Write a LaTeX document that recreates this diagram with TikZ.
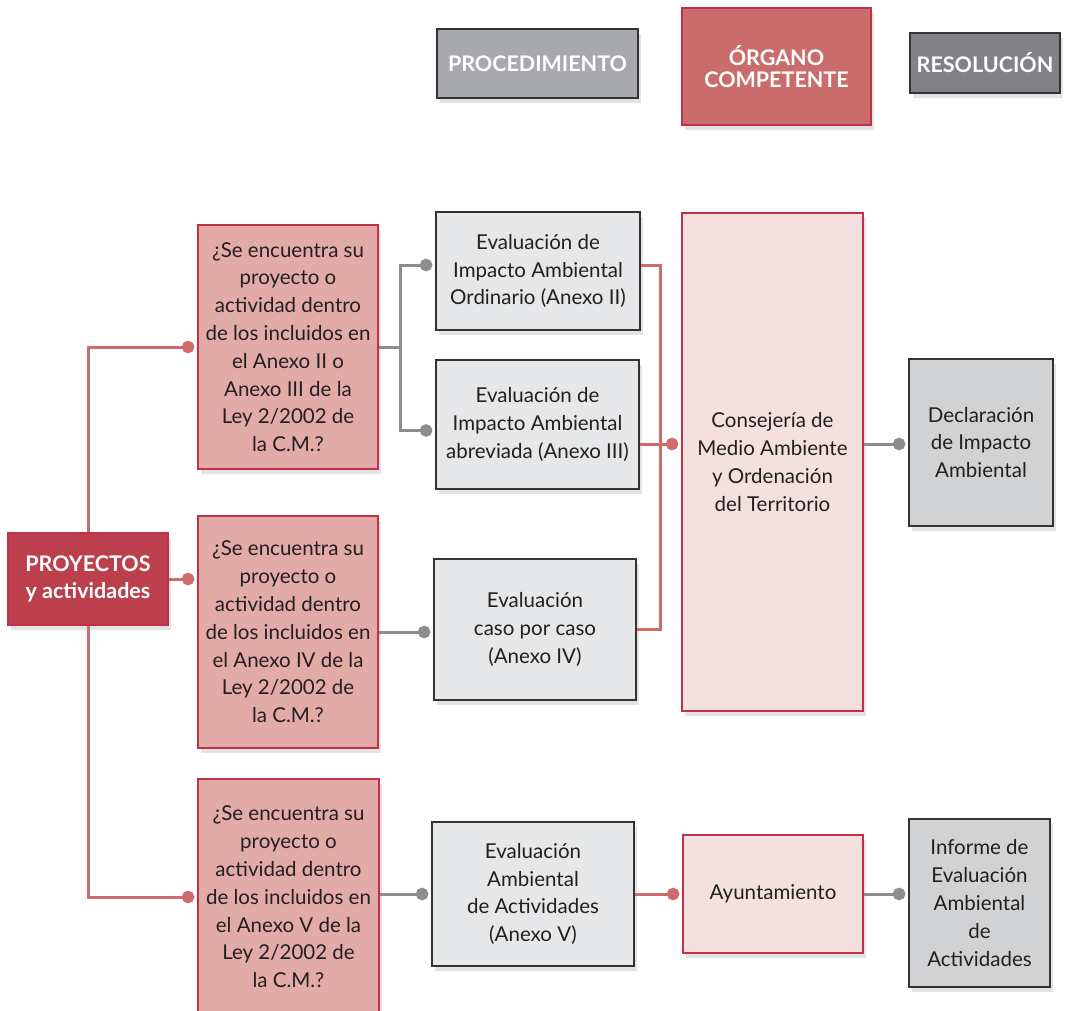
\documentclass[tikz,border=0pt]{standalone}
\usepackage{fontspec}
\setmainfont{Lato}
\usetikzlibrary{arrows.meta,shadows}
\definecolor{qfill}{HTML}{E3ABA7}
\definecolor{redborder}{HTML}{C0304A}
\definecolor{consfill}{HTML}{F5E0E0}
\definecolor{projfill}{HTML}{BC404C}
\definecolor{orgfill}{HTML}{C96C6A}
\definecolor{efill}{HTML}{E6E7E8}
\definecolor{rfill}{HTML}{D1D2D4}
\definecolor{procfill}{HTML}{A7A9AC}
\definecolor{resfill}{HTML}{808285}
\definecolor{redline}{HTML}{CF6B6C}
\definecolor{grayline}{HTML}{8C8D90}
\definecolor{txt}{HTML}{231F20}
\tikzset{
  box/.style={rectangle, inner sep=0pt, align=center, text=txt, line width=1.3pt,
    font=\fontsize{20.5}{27.8}\selectfont,
    drop shadow={opacity=0.22, shadow xshift=3pt, shadow yshift=-5pt}},
  qbox/.style={box, fill=qfill, draw=redborder},
  ebox/.style={box, fill=efill, draw=black!80},
  rbox/.style={box, fill=rfill, draw=black!80},
  cbox/.style={box, fill=consfill, draw=redborder},
  hdr/.style={box, text=white, font=\bfseries\fontsize{21.5}{22}\selectfont},
  rl/.style={draw=redline, line width=3pt},
  gl/.style={draw=grayline, line width=3pt},
  dotend/.style={-{Circle[length=12.5pt]}, shorten >=3pt},
}
\begin{document}
\begin{tikzpicture}[x=1pt,y=-1pt]
\useasboundingbox (0,0) rectangle (1065,1011);
% headers
\node[hdr, fill=procfill, draw=black!80, minimum width=201pt, minimum height=69pt] (proc) at (537.5,63.5) {PROCEDIMIENTO};
\node[hdr, fill=orgfill, draw=redborder, minimum width=189pt, minimum height=117pt] (org) at (776.5,66.5) {ÓRGANO\\COMPETENTE};
\node[hdr, fill=resfill, draw=black!80, minimum width=150pt, minimum height=60pt] (res) at (985,63) {RESOLUCIÓN};
% left column
\node[hdr, fill=projfill, draw=redborder, minimum width=160pt, minimum height=92pt, font=\bfseries\fontsize{21.5}{27}\selectfont] (proy) at (88,579) {PROYECTOS\\y actividades};
\node[qbox, minimum width=180pt, minimum height=244pt] (q1) at (288,347)
 {¿Se encuentra su\\proyecto o\\actividad dentro\\de los incluidos en\\el Anexo II o\\Anexo III de la\\Ley 2/2002 de\\la C.M.?};
\node[qbox, minimum width=180pt, minimum height=232pt] (q2) at (288,632)
 {¿Se encuentra su\\proyecto o\\actividad dentro\\de los incluidos en\\el Anexo IV de la\\Ley 2/2002 de\\la C.M.?};
\node[qbox, minimum width=181pt, minimum height=236pt] (q3) at (288.5,897)
 {¿Se encuentra su\\proyecto o\\actividad dentro\\de los incluidos en\\el Anexo V de la\\Ley 2/2002 de\\la C.M.?};
% procedure column
\node[ebox, minimum width=204pt, minimum height=118pt] (e1) at (538,271) {Evaluación de\\Impacto Ambiental\\Ordinario (Anexo II)};
\node[ebox, minimum width=203pt, minimum height=129pt] (e2) at (537.5,424.5) {Evaluación de\\Impacto Ambiental\\abreviada (Anexo III)};
\node[ebox, minimum width=202pt, minimum height=141pt] (e3) at (535,629.5) {Evaluación\\caso por caso\\(Anexo IV)};
\node[ebox, minimum width=202pt, minimum height=144pt] (e4) at (533,894) {Evaluación\\Ambiental\\de Actividades\\(Anexo V)};
% organ column
\node[cbox, minimum width=181pt, minimum height=498pt] (cons) at (772.5,462) {Consejería de\\Medio Ambiente\\y Ordenación\\del Territorio};
\node[cbox, minimum width=180pt, minimum height=118pt] (ayun) at (773,894) {Ayuntamiento};
% resolution column
\node[rbox, minimum width=144pt, minimum height=167pt] (decl) at (981,442.5) {Declaración\\de Impacto\\Ambiental};
\node[rbox, minimum width=141pt, minimum height=168pt] (inf) at (979.5,903) {Informe de\\Evaluación\\Ambiental\\de\\Actividades};
% junction coordinates
\coordinate (j1) at (400,347);
\coordinate (j2) at (660,265);
% connectors from PROYECTOS
\draw[rl, dotend] (proy.north) |- (q1.west);
\draw[rl, dotend] (proy.south) |- (q3.west);
\draw[rl, dotend] (proy.east) -- (q2.west |- proy.east);
% Q1 to E1 / E2
\draw[gl] (q1.east) -- (j1);
\draw[gl, dotend] (j1) |- ([yshift=6pt]e1.west);
\draw[gl, dotend] (j1) |- ([yshift=-6pt]e2.west);
% E boxes to Consejería
\draw[rl] ([yshift=6pt]e1.east) -- (j2) |- (e3.east);
\draw[rl, dotend] (e2.east |- 0,444) -- (cons.west |- 0,444);
% Q2 to E3
\draw[gl, dotend] (q2.east) -- (e3.west |- q2.east);
% Consejería to Declaración
\draw[gl, dotend] (cons.east |- 0,444) -- (decl.west |- 0,444);
% bottom row
\draw[gl, dotend] (q3.east |- e4.west) -- (e4.west);
\draw[rl, dotend] (e4.east) -- (ayun.west);
\draw[gl, dotend] (ayun.east) -- (inf.west |- ayun.east);
\end{tikzpicture}
\end{document}
